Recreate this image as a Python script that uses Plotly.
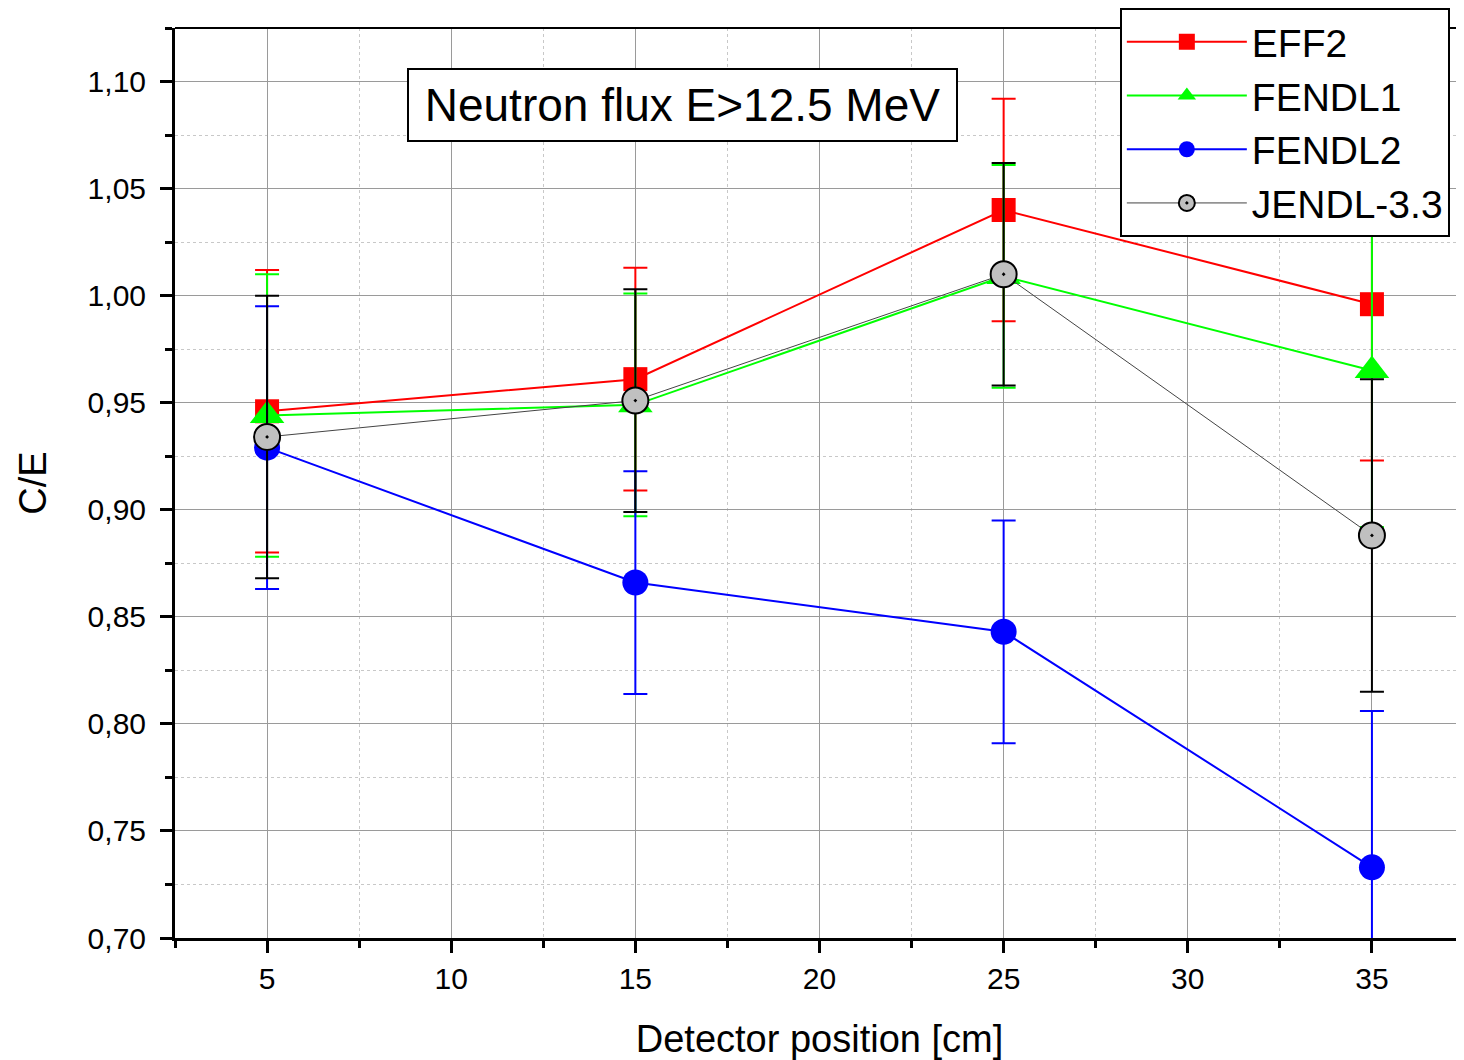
import plotly.graph_objects as go

# detector positions [cm]
positions = [5, 15, 25, 35]

# C/E ratios
eff2 = [0.946, 0.961, 1.040, 0.996]
fendl1 = [0.944, 0.949, 1.009, 0.965]
fendl2 = [0.929, 0.866, 0.843, 0.733]
jendl33 = [0.934, 0.951, 1.010, 0.888]

# uncertainty (same for all libraries at a given position)
errors = [0.066, 0.052, 0.052, 0.073]

series = [
    ("EFF2", eff2, "#ff0000", "square", 24, 2, "#ff0000"),
    ("FENDL1", fendl1, "#00ff00", "triangle-up", 30, 2, "#00ff00"),
    ("FENDL2", fendl2, "#0000ff", "circle", 26, 2, "#0000ff"),
    ("JENDL-3.3", jendl33, "#444444", "circle-dot", 26, 1, "#000000"),
]

fig = go.Figure()

for name, vals, color, symbol, size, lw, errcolor in series:
    if symbol == "circle-dot":
        marker = dict(symbol=symbol, size=size, color="#c0c0c0",
                      line=dict(color="black", width=2))
    else:
        marker = dict(symbol=symbol, size=size, color=color, line=dict(width=0))
    fig.add_trace(go.Scatter(
        x=positions, y=vals, name=name, mode="lines+markers",
        line=dict(color=color, width=lw),
        marker=marker,
        error_y=dict(type="data", array=errors, visible=True,
                     color=errcolor, thickness=2, width=12),
    ))

grid_col = "#9a9a9a"
minor_grid = dict(showgrid=True, gridcolor="#c8c8c8", griddash="dot", gridwidth=1,
                  ticks="outside", ticklen=7, tickwidth=3, tickcolor="black")

# page body has an 8px margin, so the figure is shifted a little
fig.update_layout(
    width=1456, height=1052,
    plot_bgcolor="white", paper_bgcolor="white",
    separators=", ",
    font=dict(family="Liberation Sans, Arial, sans-serif", color="black"),
    margin=dict(l=167, r=0, t=20, b=122, autoexpand=False),
    xaxis=dict(
        range=[2.5, 37.5], tickvals=[5, 10, 15, 20, 25, 30, 35],
        showgrid=True, gridcolor=grid_col, gridwidth=1,
        ticks="outside", ticklen=12, tickwidth=3, tickcolor="black",
        showline=True, linecolor="black", linewidth=3,
        tickfont=dict(size=30), automargin=False,
        title=dict(text="Detector position [cm]", font=dict(size=38), standoff=36),
        zeroline=False,
        minor=dict(dtick=2.5, tick0=2.5, **minor_grid),
    ),
    yaxis=dict(
        range=[0.70, 1.125], dtick=0.05, tick0=0.70, tickformat=".2f",
        showgrid=True, gridcolor=grid_col, gridwidth=1,
        ticks="outside", ticklen=12, tickwidth=3, tickcolor="black",
        showline=True, linecolor="black", linewidth=3,
        tickfont=dict(size=30), ticklabelstandoff=8, automargin=False,
        title=dict(text="C/E", font=dict(size=38), standoff=30),
        zeroline=False,
        minor=dict(dtick=0.025, tick0=0.70, **minor_grid),
    ),
    legend=dict(
        x=0.733, y=1.022, xanchor="left", yanchor="top",
        bgcolor="white", bordercolor="black", borderwidth=2,
        font=dict(size=39), itemwidth=120, tracegroupgap=0,
    ),
    showlegend=True,
)

# top frame line
fig.add_shape(type="line", xref="paper", yref="paper", x0=0, x1=1, y0=1, y1=1,
              line=dict(color="black", width=2))

fig.add_annotation(
    xref="x", yref="y", x=16.27, y=1.089, text="Neutron flux E>12.5 MeV",
    showarrow=False, font=dict(size=46), bgcolor="white", width=529,
    bordercolor="black", borderwidth=2, borderpad=9,
)

fig.write_html("out.html")
